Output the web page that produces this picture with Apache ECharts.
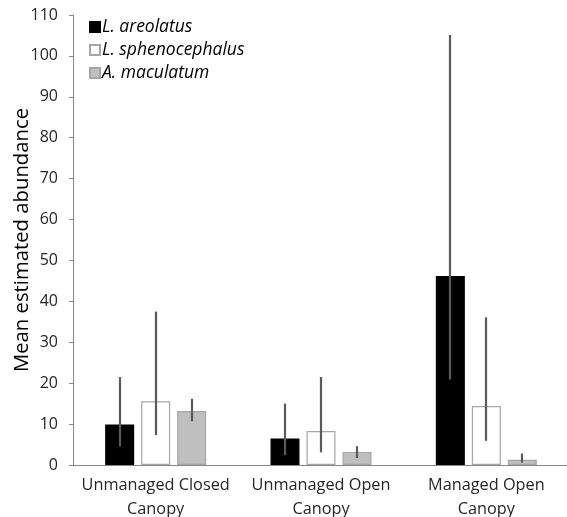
<!DOCTYPE html>
<html>
<head>
<meta charset="utf-8">
<script src="https://cdn.jsdelivr.net/npm/echarts@6/dist/echarts.min.js"></script>
<style>
  html, body { margin: 0; padding: 0; background: #fff; }
  #chart { width: 567px; height: 517px; }
</style>
</head>
<body>
<div id="chart"></div>
<script>
// Habitat categories on the x axis
const categories = ['Unmanaged Closed\nCanopy', 'Unmanaged Open\nCanopy', 'Managed Open\nCanopy'];

// Species names
const speciesNames = ['L. areolatus', 'L. sphenocephalus', 'A. maculatum'];

// Mean estimated abundance per habitat
const areolatusMean = [9.9, 6.5, 46.2];
const sphenocephalusMean = [15.6, 8.3, 14.4];
const maculatumMean = [13.2, 3.2, 1.3];

// Error bar limits [low, high] per habitat
const areolatusRange = [[4.6, 21.5], [2.4, 15.0], [20.9, 105.1]];
const sphenocephalusRange = [[7.3, 37.5], [3.1, 21.5], [5.9, 36.1]];
const maculatumRange = [[10.7, 16.2], [1.7, 4.6], [0.6, 2.8]];

// Y axis ticks
const yMin = 0, yMax = 110, yStep = 10;

const fills = ['#000000', '#ffffff', '#bfbfbf'];
const borders = ['#000000', '#a6a6a6', '#a6a6a6'];
const means = [areolatusMean, sphenocephalusMean, maculatumMean];
const ranges = [areolatusRange, sphenocephalusRange, maculatumRange];

const BAR_W = 29;
const BAR_GAP = 7;

const chart = echarts.init(document.getElementById('chart'));

const barSeries = speciesNames.map((name, i) => ({
  name: name,
  type: 'bar',
  data: means[i],
  barWidth: BAR_W,
  barGap: (BAR_GAP / BAR_W * 100) + '%',
  itemStyle: { color: fills[i], borderColor: borders[i], borderWidth: 1.2 },
  z: 2
}));

// Whiskers drawn as vertical lines centred on each bar
const errorSeries = speciesNames.map((name, i) => ({
  type: 'custom',
  name: name + ' range',
  data: ranges[i].map((r, k) => [k, r[0], r[1]]),
  z: 5,
  renderItem: function (params, api) {
    const k = api.value(0);
    const lo = api.coord([k, api.value(1)]);
    const hi = api.coord([k, api.value(2)]);
    const offset = (i - 1) * (BAR_W + BAR_GAP);
    const x = Math.round(lo[0] + offset);
    return {
      type: 'line',
      shape: { x1: x, y1: lo[1], x2: x, y2: hi[1] },
      style: { stroke: '#5a5a5a', lineWidth: 2.2 }
    };
  }
}));

chart.setOption({
  animation: false,
  textStyle: { fontFamily: 'Open Sans' },
  grid: { left: 73, right: -2, top: 15, bottom: 52, containLabel: false, outerBoundsMode: 'none' },
  legend: {
    orient: 'vertical',
    left: 84,
    top: 13,
    itemWidth: 10,
    itemHeight: 10,
    itemGap: 5,
    icon: 'rect',
    data: speciesNames,
    textStyle: { fontStyle: 'italic', fontSize: 17.5, color: '#000', fontFamily: 'Open Sans', padding: [0, 0, 0, -3] }
  },
  xAxis: {
    type: 'category',
    data: categories,
    axisLine: { lineStyle: { color: '#868686', width: 1 } },
    axisTick: { show: false },
    axisLabel: { interval: 0, color: '#262626', fontSize: 16.3, lineHeight: 24, margin: 8 }
  },
  yAxis: {
    type: 'value',
    min: yMin,
    max: yMax,
    interval: yStep,
    name: 'Mean estimated abundance',
    nameLocation: 'middle',
    nameGap: 41,
    nameMoveOverlap: false,
    nameTextStyle: { fontSize: 20.3, color: '#000' },
    axisLine: { show: true, lineStyle: { color: '#868686' } },
    axisTick: { show: true, length: 4, lineStyle: { color: '#868686' } },
    splitLine: { show: false },
    axisLabel: { color: '#262626', fontSize: 16, margin: 15 }
  },
  series: barSeries.concat(errorSeries)
});
</script>
</body>
</html>
